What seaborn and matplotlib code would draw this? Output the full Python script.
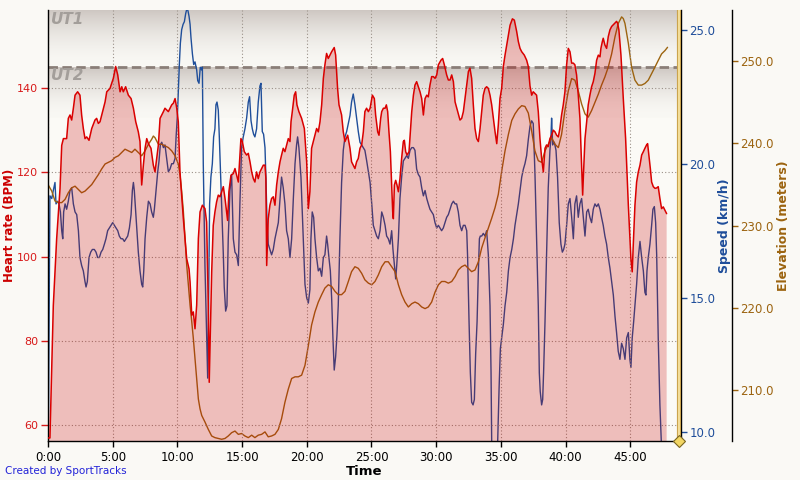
import matplotlib
matplotlib.use("Agg")
import matplotlib.pyplot as plt
import seaborn as sns
import numpy as np
import pandas as pd
from matplotlib.colors import LinearSegmentedColormap
from matplotlib.ticker import FuncFormatter, FormatStrFormatter

# Heart rate trace (minutes, bpm)
hr_time = [
    0.00, 0.15, 0.41, 0.67, 0.93, 1.06, 1.19, 1.44, 1.57, 1.70,
    1.83, 1.96, 2.09, 2.29, 2.47, 2.60, 2.73, 2.86, 2.99, 3.17,
    3.38, 3.63, 3.76, 3.89, 4.02, 4.15, 4.28, 4.41, 4.54, 4.79,
    5.05, 5.23, 5.39, 5.57, 5.70, 5.82, 6.00, 6.21, 6.42, 6.60,
    6.78, 6.98, 7.11, 7.24, 7.37, 7.50, 7.63, 7.76, 7.96, 8.14,
    8.27, 8.40, 8.53, 8.66, 8.79, 8.92, 9.04, 9.30, 9.56, 9.69,
    9.82, 9.95, 10.07, 10.20, 10.46, 10.72, 10.90, 10.98, 11.11, 11.23,
    11.36, 11.49, 11.62, 11.75, 11.93, 12.13, 12.26, 12.39, 12.46, 12.65,
    12.77, 12.90, 13.03, 13.16, 13.29, 13.42, 13.55, 13.68, 13.80, 13.88,
    13.98, 14.14, 14.32, 14.45, 14.58, 14.71, 14.83, 14.91, 15.02, 15.17,
    15.35, 15.48, 15.61, 15.74, 15.87, 15.99, 16.12, 16.25, 16.38, 16.51,
    16.64, 16.77, 16.84, 16.90, 17.02, 17.15, 17.28, 17.41, 17.54, 17.67,
    17.80, 17.93, 18.05, 18.18, 18.31, 18.44, 18.57, 18.70, 18.78, 18.88,
    19.03, 19.14, 19.24, 19.39, 19.60, 19.81, 19.99, 20.12, 20.24, 20.37,
    20.50, 20.63, 20.76, 20.89, 21.02, 21.15, 21.28, 21.40, 21.53, 21.66,
    21.79, 21.92, 22.12, 22.23, 22.38, 22.49, 22.69, 22.82, 22.95, 23.16,
    23.34, 23.46, 23.59, 23.72, 23.85, 23.98, 24.11, 24.24, 24.37, 24.49,
    24.62, 24.76, 24.89, 25.07, 25.22, 25.32, 25.48, 25.58, 25.71, 25.79,
    25.92, 26.05, 26.15, 26.25, 26.35, 26.46, 26.56, 26.64, 26.69, 26.77,
    26.87, 26.97, 27.08, 27.20, 27.33, 27.46, 27.54, 27.64, 27.75, 27.90,
    28.00, 28.11, 28.24, 28.36, 28.49, 28.62, 28.75, 28.88, 29.01, 29.14,
    29.27, 29.39, 29.52, 29.65, 29.78, 29.91, 30.04, 30.17, 30.37, 30.50,
    30.63, 30.81, 30.94, 31.07, 31.20, 31.33, 31.46, 31.66, 31.84, 31.97,
    32.10, 32.23, 32.36, 32.49, 32.61, 32.74, 32.87, 33.00, 33.13, 33.26,
    33.39, 33.52, 33.64, 33.77, 33.90, 34.03, 34.16, 34.29, 34.42, 34.55,
    34.68, 34.80, 34.93, 35.06, 35.19, 35.32, 35.45, 35.58, 35.71, 35.89,
    36.04, 36.22, 36.35, 36.48, 36.61, 36.81, 36.99, 37.12, 37.25, 37.38,
    37.50, 37.63, 37.76, 37.89, 38.02, 38.15, 38.28, 38.41, 38.53, 38.66,
    38.79, 38.92, 39.05, 39.18, 39.31, 39.44, 39.56, 39.69, 39.82, 39.95,
    40.08, 40.21, 40.34, 40.47, 40.60, 40.72, 40.85, 40.98, 41.11, 41.24,
    41.32, 41.39, 41.50, 41.63, 41.75, 41.88, 42.01, 42.14, 42.27, 42.40,
    42.53, 42.66, 42.73, 42.84, 42.91, 43.04, 43.17, 43.30, 43.43, 43.56,
    43.69, 43.82, 43.94, 44.02, 44.12, 44.28, 44.46, 44.64, 44.85, 45.05,
    45.15, 45.23, 45.36, 45.49, 45.62, 45.75, 45.88, 46.01, 46.13, 46.26,
    46.34, 46.44, 46.55, 46.65, 46.78, 46.91, 47.04, 47.16, 47.29, 47.42,
    47.55, 47.68, 47.81,
]
hr_bpm = [
    57.0, 57.0, 88.4, 104.3, 116.2, 126.4, 128.0, 128.0, 132.8, 133.6,
    132.4, 135.2, 138.3, 139.1, 138.3, 133.6, 130.4, 128.0, 128.4, 127.6,
    130.4, 132.4, 132.8, 131.6, 132.0, 133.6, 135.2, 136.7, 139.1, 139.9,
    142.3, 145.1, 143.1, 139.1, 140.3, 139.1, 140.3, 138.3, 137.5, 135.2,
    132.0, 129.6, 127.3, 117.0, 121.7, 125.7, 128.0, 126.8, 125.7, 121.7,
    120.1, 123.3, 126.5, 132.8, 133.6, 134.4, 135.2, 134.4, 136.0, 136.4,
    137.5, 135.2, 132.0, 120.1, 109.0, 99.5, 97.1, 94.0, 86.1, 86.9,
    82.9, 88.5, 104.3, 110.6, 112.2, 111.4, 108.2, 88.5, 70.2, 96.4,
    107.4, 110.6, 113.0, 114.6, 114.2, 115.4, 116.6, 113.8, 110.6, 108.6,
    115.4, 119.3, 119.7, 120.9, 119.3, 117.7, 124.1, 128.0, 127.3, 124.9,
    124.1, 124.5, 122.5, 120.1, 118.5, 117.7, 120.1, 118.5, 120.1, 120.9,
    121.7, 121.7, 118.5, 97.9, 109.0, 112.2, 113.8, 114.2, 112.2, 117.0,
    120.1, 122.5, 124.1, 125.7, 124.9, 126.5, 128.0, 127.3, 132.0, 134.4,
    138.3, 139.1, 136.0, 134.4, 132.8, 130.4, 122.5, 111.4, 115.4, 125.7,
    127.3, 128.8, 130.4, 129.6, 132.0, 136.0, 142.3, 145.5, 148.2, 147.0,
    147.8, 148.6, 149.6, 147.8, 139.9, 136.0, 133.6, 129.6, 127.3, 128.8,
    125.7, 122.5, 121.7, 120.9, 122.5, 123.3, 125.7, 126.5, 129.6, 134.4,
    135.2, 134.4, 135.2, 138.3, 137.5, 133.6, 129.6, 128.8, 132.8, 134.4,
    135.2, 135.2, 136.0, 134.4, 129.6, 124.9, 117.0, 110.6, 109.0, 117.0,
    118.1, 117.0, 115.4, 118.5, 123.3, 127.3, 127.6, 124.9, 124.1, 124.9,
    129.6, 134.4, 138.3, 140.7, 141.5, 140.3, 139.1, 137.5, 133.6, 137.5,
    138.3, 137.9, 140.7, 142.7, 142.7, 142.3, 143.1, 145.5, 146.6, 147.0,
    145.5, 143.1, 141.9, 141.9, 143.1, 141.5, 136.7, 134.4, 132.4, 132.8,
    134.4, 137.5, 140.7, 143.9, 144.7, 142.3, 136.0, 130.4, 128.0, 127.3,
    130.4, 134.4, 138.3, 139.9, 140.3, 139.9, 138.3, 136.0, 132.8, 129.6,
    126.8, 131.2, 137.5, 139.9, 145.1, 147.8, 150.2, 152.6, 154.9, 156.4,
    156.1, 153.4, 151.0, 149.4, 148.6, 147.8, 146.6, 145.1, 140.5, 138.3,
    139.1, 138.7, 138.3, 134.4, 128.0, 123.3, 120.1, 125.7, 126.5, 126.1,
    128.0, 128.8, 130.0, 129.6, 128.8, 128.4, 130.4, 133.6, 136.0, 139.1,
    145.5, 149.4, 148.6, 145.9, 145.9, 145.5, 143.1, 138.3, 132.8, 121.7,
    114.6, 120.1, 128.0, 132.0, 136.0, 138.3, 140.3, 141.5, 143.5, 146.6,
    147.8, 147.4, 149.4, 151.0, 151.8, 150.2, 149.4, 152.2, 153.8, 154.6,
    155.0, 155.4, 155.8, 155.4, 153.8, 147.8, 137.5, 128.0, 112.2, 99.5,
    96.4, 102.7, 112.2, 117.7, 120.1, 121.7, 124.1, 124.9, 125.7, 126.5,
    126.8, 124.1, 120.9, 117.7, 116.6, 116.2, 116.3, 116.6, 113.8, 111.4,
    111.8, 111.0, 110.2,
]

# Speed trace (minutes, km/h)
speed_time = [
    0.00, 0.15, 0.29, 0.41, 0.54, 0.62, 0.75, 0.85, 0.96, 1.06,
    1.14, 1.21, 1.32, 1.44, 1.57, 1.70, 1.83, 1.96, 2.09, 2.22,
    2.35, 2.47, 2.60, 2.73, 2.86, 2.94, 3.04, 3.17, 3.30, 3.43,
    3.58, 3.71, 3.84, 3.97, 4.10, 4.23, 4.36, 4.48, 4.61, 4.74,
    4.87, 5.00, 5.13, 5.26, 5.39, 5.51, 5.64, 5.77, 5.90, 6.03,
    6.16, 6.29, 6.42, 6.52, 6.60, 6.67, 6.78, 6.88, 6.98, 7.11,
    7.24, 7.32, 7.40, 7.50, 7.63, 7.76, 7.89, 8.01, 8.14, 8.22,
    8.35, 8.48, 8.58, 8.68, 8.79, 8.92, 9.04, 9.17, 9.30, 9.43,
    9.56, 9.69, 9.82, 9.90, 10.00, 10.07, 10.15, 10.23, 10.33, 10.44,
    10.54, 10.64, 10.74, 10.82, 10.90, 10.98, 11.05, 11.16, 11.26, 11.36,
    11.49, 11.57, 11.67, 11.77, 11.88, 11.93, 12.00, 12.13, 12.26, 12.34,
    12.41, 12.49, 12.59, 12.70, 12.80, 12.90, 12.98, 13.06, 13.16, 13.24,
    13.31, 13.42, 13.55, 13.62, 13.73, 13.83, 13.93, 14.06, 14.19, 14.32,
    14.45, 14.58, 14.71, 14.83, 14.96, 15.09, 15.22, 15.35, 15.48, 15.58,
    15.69, 15.79, 15.89, 15.99, 16.12, 16.25, 16.38, 16.46, 16.56, 16.66,
    16.77, 16.84, 16.92, 17.02, 17.15, 17.28, 17.41, 17.54, 17.67, 17.80,
    17.93, 18.05, 18.18, 18.31, 18.44, 18.57, 18.70, 18.83, 18.96, 19.09,
    19.21, 19.29, 19.39, 19.55, 19.65, 19.75, 19.86, 19.99, 20.12, 20.24,
    20.32, 20.42, 20.53, 20.63, 20.76, 20.89, 21.02, 21.15, 21.28, 21.40,
    21.53, 21.61, 21.71, 21.82, 21.92, 22.02, 22.12, 22.23, 22.33, 22.43,
    22.56, 22.69, 22.82, 22.95, 23.08, 23.21, 23.34, 23.46, 23.59, 23.72,
    23.85, 23.98, 24.11, 24.24, 24.37, 24.49, 24.63, 24.76, 24.89, 25.02,
    25.14, 25.27, 25.40, 25.53, 25.66, 25.79, 25.92, 26.05, 26.17, 26.30,
    26.43, 26.56, 26.66, 26.77, 26.87, 26.95, 27.08, 27.20, 27.33, 27.46,
    27.59, 27.72, 27.85, 27.98, 28.11, 28.24, 28.36, 28.49, 28.62, 28.75,
    28.88, 29.01, 29.14, 29.27, 29.39, 29.52, 29.65, 29.78, 29.91, 30.04,
    30.17, 30.30, 30.42, 30.55, 30.68, 30.81, 30.94, 31.07, 31.20, 31.33,
    31.46, 31.58, 31.71, 31.84, 31.97, 32.10, 32.23, 32.36, 32.43, 32.54,
    32.64, 32.74, 32.85, 32.95, 33.05, 33.16, 33.26, 33.34, 33.41, 33.52,
    33.64, 33.77, 33.90, 34.03, 34.16, 34.24, 34.29, 34.42, 34.68, 34.75,
    34.86, 34.96, 35.06, 35.19, 35.32, 35.45, 35.58, 35.71, 35.84, 35.97,
    36.09, 36.22, 36.35, 36.48, 36.61, 36.74, 36.86, 36.99, 37.12, 37.25,
    37.38, 37.50, 37.63, 37.76, 37.89, 37.97, 38.04, 38.15, 38.23, 38.30,
    38.41, 38.53, 38.66, 38.79, 38.87, 38.92, 39.00, 39.13, 39.26, 39.38,
    39.51, 39.64, 39.75, 39.85, 39.95, 40.08, 40.21, 40.34, 40.47, 40.60,
    40.72, 40.85, 40.98, 41.11, 41.24, 41.37, 41.50, 41.63, 41.75, 41.88,
    42.01, 42.14, 42.27, 42.40, 42.53, 42.66, 42.78, 42.91, 43.04, 43.17,
    43.30, 43.43, 43.56, 43.69, 43.82, 43.94, 44.07, 44.20, 44.33, 44.46,
    44.59, 44.72, 44.85, 44.97, 45.05, 45.15, 45.26, 45.36, 45.49, 45.62,
    45.75, 45.88, 46.01, 46.13, 46.21, 46.29, 46.39, 46.52, 46.65, 46.75,
    46.86, 46.96, 47.04, 47.16, 47.29, 47.40, 47.55,
]
speed_kmh = [
    8.0, 18.8, 18.7, 19.0, 19.3, 18.5, 18.6, 18.5, 18.2, 17.5,
    17.2, 18.2, 18.5, 18.3, 18.6, 19.0, 19.1, 18.5, 18.2, 18.1,
    17.5, 16.5, 16.2, 16.0, 15.6, 15.4, 15.6, 16.5, 16.7, 16.8,
    16.8, 16.7, 16.5, 16.5, 16.7, 16.8, 17.0, 17.2, 17.5, 17.6,
    17.7, 17.8, 17.7, 17.6, 17.5, 17.3, 17.2, 17.2, 17.1, 17.2,
    17.3, 17.6, 18.1, 19.0, 19.3, 19.0, 18.2, 17.5, 16.7, 16.0,
    15.5, 15.4, 16.0, 17.2, 18.0, 18.6, 18.5, 18.2, 18.0, 18.3,
    19.0, 19.7, 20.1, 20.7, 20.8, 20.6, 20.7, 20.2, 19.7, 19.8,
    20.0, 20.0, 20.2, 21.0, 21.8, 22.7, 23.7, 24.5, 25.0, 25.2,
    25.3, 25.6, 25.8, 25.7, 25.5, 25.2, 24.7, 24.1, 23.7, 23.8,
    23.5, 23.1, 23.0, 23.6, 23.5, 23.6, 20.0, 16.2, 13.5, 12.0,
    14.7, 18.5, 19.5, 20.0, 21.0, 21.3, 22.2, 22.3, 22.0, 21.0,
    20.0, 18.5, 16.6, 15.4, 14.5, 14.7, 17.2, 19.0, 19.6, 17.2,
    16.7, 16.6, 16.2, 18.5, 20.6, 21.0, 21.3, 21.7, 22.3, 22.5,
    21.6, 21.3, 21.1, 21.0, 21.3, 22.3, 22.9, 23.0, 21.2, 21.1,
    20.6, 19.5, 18.0, 17.0, 16.8, 16.6, 16.8, 17.2, 17.5, 17.8,
    18.7, 19.5, 19.1, 18.5, 17.5, 17.2, 16.5, 17.2, 18.7, 20.0,
    20.7, 21.0, 20.6, 19.5, 18.2, 17.0, 15.5, 15.0, 14.8, 15.3,
    17.2, 18.2, 18.0, 17.2, 16.5, 16.0, 16.1, 15.8, 16.5, 16.6,
    17.3, 17.0, 16.5, 16.0, 15.0, 13.5, 12.3, 12.8, 13.6, 14.7,
    17.2, 19.3, 20.5, 21.0, 21.2, 21.5, 21.8, 22.3, 22.6, 22.2,
    21.7, 21.2, 20.8, 20.7, 20.6, 20.5, 20.1, 19.7, 19.3, 18.5,
    17.7, 17.5, 17.3, 17.2, 17.5, 18.2, 18.0, 17.7, 17.3, 17.2,
    17.0, 17.5, 16.8, 16.2, 15.7, 16.2, 17.2, 18.7, 19.5, 20.1,
    20.2, 20.3, 20.2, 20.5, 20.6, 20.6, 20.5, 19.8, 19.6, 19.5,
    19.1, 18.8, 19.0, 18.7, 18.5, 18.3, 18.2, 18.1, 17.8, 17.6,
    17.7, 17.6, 17.5, 17.6, 17.8, 18.0, 18.1, 18.3, 18.5, 18.6,
    18.5, 18.5, 18.2, 17.7, 17.5, 17.7, 17.7, 17.5, 16.5, 14.1,
    12.2, 11.1, 11.0, 11.2, 12.9, 14.1, 16.0, 17.2, 17.3, 17.3,
    17.4, 17.3, 17.5, 16.6, 14.7, 12.2, 9.6, 8.5, 8.5, 9.6,
    11.6, 13.1, 13.5, 14.0, 14.7, 15.2, 16.0, 16.5, 16.8, 17.2,
    17.7, 18.1, 18.5, 19.0, 19.5, 19.8, 20.0, 20.3, 20.9, 21.4,
    21.6, 21.5, 19.7, 17.2, 14.7, 12.2, 11.5, 11.0, 11.2, 12.2,
    14.1, 16.6, 19.1, 20.5, 21.0, 21.7, 20.7, 20.8, 20.5, 19.5,
    17.8, 17.0, 16.7, 16.8, 17.0, 17.7, 18.5, 18.7, 18.0, 17.2,
    18.5, 18.8, 18.0, 18.5, 18.7, 18.0, 17.3, 18.2, 18.3, 18.0,
    17.8, 18.3, 18.5, 18.4, 18.5, 18.3, 18.0, 17.7, 17.3, 17.0,
    16.5, 16.1, 15.6, 15.1, 14.3, 13.7, 13.0, 12.7, 13.3, 13.1,
    12.7, 13.5, 13.7, 12.7, 12.4, 13.5, 14.1, 14.7, 15.5, 16.5,
    17.1, 16.5, 16.0, 15.2, 15.1, 16.0, 16.5, 17.0, 17.7, 18.3,
    18.4, 17.8, 16.6, 13.5, 11.0, 9.6, 8.5,
]

# Elevation trace (minutes, meters)
elev_time = [
    0.00, 0.29, 0.54, 0.80, 1.06, 1.32, 1.57, 1.83, 2.09, 2.35,
    2.60, 2.86, 3.12, 3.38, 3.63, 3.89, 4.15, 4.41, 4.66, 4.92,
    5.18, 5.44, 5.70, 5.95, 6.21, 6.47, 6.72, 6.98, 7.24, 7.50,
    7.76, 8.01, 8.14, 8.27, 8.53, 8.79, 9.04, 9.30, 9.56, 9.82,
    10.07, 10.20, 10.33, 10.46, 10.59, 10.72, 10.85, 10.98, 11.11, 11.23,
    11.36, 11.49, 11.62, 11.75, 11.88, 12.13, 12.39, 12.65, 12.90, 13.16,
    13.42, 13.68, 13.93, 14.19, 14.45, 14.71, 14.96, 15.22, 15.48, 15.74,
    15.99, 16.25, 16.51, 16.77, 17.02, 17.28, 17.54, 17.80, 18.05, 18.31,
    18.57, 18.83, 19.09, 19.34, 19.60, 19.86, 20.12, 20.37, 20.63, 20.89,
    21.15, 21.40, 21.66, 21.92, 22.18, 22.43, 22.69, 22.95, 23.21, 23.46,
    23.72, 23.98, 24.24, 24.49, 24.76, 25.02, 25.27, 25.53, 25.79, 26.05,
    26.30, 26.56, 26.82, 27.08, 27.33, 27.59, 27.85, 28.11, 28.36, 28.62,
    28.88, 29.14, 29.39, 29.65, 29.91, 30.17, 30.42, 30.68, 30.94, 31.20,
    31.46, 31.71, 31.97, 32.23, 32.49, 32.74, 33.00, 33.26, 33.52, 33.77,
    34.03, 34.29, 34.55, 34.80, 35.06, 35.32, 35.58, 35.84, 36.09, 36.35,
    36.61, 36.86, 37.12, 37.38, 37.63, 37.89, 38.15, 38.41, 38.66, 38.92,
    39.18, 39.44, 39.69, 39.95, 40.21, 40.47, 40.72, 40.98, 41.24, 41.50,
    41.75, 42.01, 42.27, 42.53, 42.78, 43.04, 43.30, 43.56, 43.82, 44.07,
    44.33, 44.46, 44.59, 44.85, 45.10, 45.36, 45.62, 45.88, 46.13, 46.39,
    46.65, 46.91, 47.16, 47.42, 47.68, 47.88,
]
elev_m = [
    235.0, 234.2, 233.0, 232.8, 232.8, 233.2, 234.0, 234.6, 234.8, 234.4,
    234.0, 234.2, 234.6, 235.0, 235.6, 236.2, 236.9, 237.5, 237.7, 237.9,
    238.3, 238.5, 238.9, 239.3, 239.1, 238.9, 239.3, 238.9, 238.5, 239.1,
    239.9, 240.5, 240.9, 240.7, 239.9, 239.9, 239.7, 239.5, 239.1, 238.5,
    237.5, 236.2, 234.2, 231.8, 228.5, 225.2, 222.8, 220.3, 218.3, 216.3,
    213.8, 211.4, 208.9, 207.7, 206.9, 206.1, 205.2, 204.4, 204.2, 204.1,
    204.0, 204.1, 204.4, 204.8, 205.0, 204.6, 204.7, 204.4, 204.2, 204.5,
    204.2, 204.5, 204.6, 204.9, 204.3, 204.4, 204.6, 205.2, 206.5, 208.5,
    210.1, 211.4, 211.6, 211.6, 211.8, 213.0, 215.4, 217.9, 219.5, 220.7,
    221.6, 222.4, 222.8, 222.6, 222.0, 221.6, 221.6, 222.0, 223.2, 224.4,
    225.0, 224.8, 224.2, 223.4, 223.0, 222.8, 223.2, 224.0, 225.0, 225.6,
    225.6, 225.0, 224.4, 222.8, 221.6, 220.7, 220.1, 220.5, 220.7, 220.5,
    220.1, 219.9, 220.1, 220.7, 221.9, 222.8, 223.2, 223.2, 223.0, 223.2,
    223.8, 224.6, 225.0, 225.2, 224.8, 224.4, 224.6, 225.6, 227.3, 228.5,
    229.7, 230.9, 232.2, 233.8, 236.6, 239.1, 241.1, 242.8, 243.6, 244.2,
    244.6, 244.5, 243.7, 241.5, 239.1, 237.9, 237.7, 239.1, 239.9, 240.7,
    239.9, 239.5, 241.1, 244.0, 246.4, 247.9, 247.7, 246.4, 244.8, 243.6,
    243.2, 244.0, 245.0, 246.0, 247.1, 248.1, 249.3, 250.9, 253.0, 254.6,
    255.4, 255.2, 254.6, 252.2, 249.3, 247.7, 247.1, 247.1, 247.3, 247.7,
    248.5, 249.3, 250.1, 250.9, 251.3, 251.7,
]

hr_ticks = [60, 80, 100, 120, 140]
speed_ticks = [10, 15, 20, 25]
elev_ticks = [210, 220, 230, 240, 250]
time_ticks = [0, 5, 10, 15, 20, 25, 30, 35, 40, 45]
zone_limit = 145      # UT1 / UT2 boundary (bpm)
ut2_floor = 133.0     # lower edge of the UT2 shading
lap_marker = 48.77    # lap marker position (min)

hr_df = pd.DataFrame({"min": hr_time, "bpm": hr_bpm})
speed_df = pd.DataFrame({"min": speed_time, "kmh": speed_kmh})
elev_df = pd.DataFrame({"min": elev_time, "m": elev_m})

sns.set_theme(style="white")
plt.rcParams["font.family"] = ["DejaVu Sans"]

BG = "#FAF9F5"
HR_C = "#DA0000"
SP_C = "#1F4E9A"
EL_C = "#9C6410"
X_LIM = (0, 48.92)
HR_LIM = (56.28, 158.5)
SP_LIM = (9.653, 25.735)
EL_LIM = (203.79, 256.24)

fig = plt.figure(figsize=(8, 4.8), dpi=100, facecolor=BG)
pos = [48 / 800, 1 - 441 / 480, 633 / 800, 431 / 480]

ax_bg = fig.add_axes(pos, zorder=0)
ax_sp = fig.add_axes(pos, zorder=1)
ax_el = fig.add_axes(pos, zorder=1.5)
ax_hr = fig.add_axes(pos, zorder=2)

# background with training zone shading
ax_bg.set_facecolor("#FBFAF6")
band_cmap = LinearSegmentedColormap.from_list("band", ["#F9F8F4", "#CEC7C2"])
grad = np.linspace(0, 1, 256).reshape(-1, 1) ** 1.8
ax_bg.imshow(grad, extent=[X_LIM[0], X_LIM[1], ut2_floor, zone_limit], origin="lower",
             aspect="auto", cmap=band_cmap, zorder=0)
ax_bg.imshow(grad, extent=[X_LIM[0], X_LIM[1], zone_limit, HR_LIM[1]], origin="lower",
             aspect="auto", cmap=band_cmap, zorder=0)
ax_bg.axhline(zone_limit, color="#8A7E78", lw=2.0, dashes=(3.4, 1.6), zorder=2)
ax_bg.text(0.22, HR_LIM[1] - 0.4, "UT1", fontsize=11, fontweight="bold", fontstyle="italic",
           color="#A39E9A", va="top", ha="left")
ax_bg.text(0.22, zone_limit - 0.3, "UT2", fontsize=11, fontweight="bold", fontstyle="italic",
           color="#A39E9A", va="top", ha="left")
ax_bg.set_xlim(*X_LIM)
ax_bg.set_ylim(*HR_LIM)
ax_bg.set_xticks([])
ax_bg.set_yticks([])
for s in ax_bg.spines.values():
    s.set_visible(False)

# speed (under the heart-rate fill)
sns.lineplot(data=speed_df, x="min", y="kmh", ax=ax_sp, color=SP_C, linewidth=1.0,
             estimator=None, sort=False)
ax_sp.patch.set_visible(False)
ax_sp.set_xlim(*X_LIM)
ax_sp.set_ylim(*SP_LIM)
ax_sp.xaxis.set_visible(False)
ax_sp.yaxis.tick_right()
ax_sp.yaxis.set_label_position("right")
ax_sp.set_yticks(speed_ticks)
ax_sp.yaxis.set_major_formatter(FormatStrFormatter("%.1f"))
ax_sp.tick_params(axis="y", colors=SP_C, labelsize=8.5, length=4, width=1, pad=2, right=True)
for k in ["left", "top", "bottom"]:
    ax_sp.spines[k].set_visible(False)
ax_sp.spines["right"].set_color("black")
ax_sp.spines["right"].set_linewidth(1.0)
ax_sp.set_ylabel("Speed (km/h)", color=SP_C, fontsize=9, fontweight="bold", labelpad=2)

# elevation
sns.lineplot(data=elev_df, x="min", y="m", ax=ax_el, color=EL_C, linewidth=1.0,
             estimator=None, sort=False)
ax_el.patch.set_visible(False)
ax_el.set_xlim(*X_LIM)
ax_el.set_ylim(*EL_LIM)
ax_el.xaxis.set_visible(False)
ax_el.yaxis.tick_right()
ax_el.yaxis.set_label_position("right")
ax_el.set_yticks(elev_ticks)
ax_el.yaxis.set_major_formatter(FormatStrFormatter("%.1f"))
ax_el.tick_params(axis="y", colors=EL_C, labelsize=8.5, length=4, width=1, pad=2, right=True)
for k in ["left", "top", "bottom"]:
    ax_el.spines[k].set_visible(False)
ax_el.spines["right"].set_position(("outward", 36.7))
ax_el.spines["right"].set_color("black")
ax_el.spines["right"].set_linewidth(1.0)
ax_el.set_ylabel("Elevation (meters)", color=EL_C, fontsize=9, fontweight="bold", labelpad=2)

# heart rate on top
ax_hr.patch.set_visible(False)
ax_hr.set_axisbelow(True)
ax_hr.fill_between(hr_df["min"], hr_df["bpm"], 0, color=(0.78, 0, 0), alpha=0.24,
                   linewidth=0, zorder=1)
sns.lineplot(data=hr_df, x="min", y="bpm", ax=ax_hr, color=HR_C, linewidth=1.1,
             estimator=None, sort=False, zorder=3)
ax_hr.set_xlim(*X_LIM)
ax_hr.set_ylim(*HR_LIM)
ax_hr.set_xticks(time_ticks)
ax_hr.xaxis.set_major_formatter(FuncFormatter(lambda v, p: f"{int(v)}:00"))
ax_hr.set_yticks(hr_ticks)
ax_hr.grid(True, color="#9A9088", linestyle=(0, (1, 2)), linewidth=0.8)
ax_hr.tick_params(axis="y", colors="#D81A1A", labelsize=8, length=5, width=1, pad=2, left=True)
ax_hr.tick_params(axis="x", colors="black", labelsize=8.5, length=4, width=1, pad=3, bottom=True)
for k in ["top", "right"]:
    ax_hr.spines[k].set_visible(False)
for k in ["left", "bottom"]:
    ax_hr.spines[k].set_color("black")
    ax_hr.spines[k].set_linewidth(1.0)
ax_hr.set_xlabel("Time", fontsize=9.5, fontweight="bold", color="black", labelpad=1)
ax_hr.set_ylabel("Heart rate (BPM)", fontsize=8.5, fontweight="bold", color="#CC0000")
ax_hr.yaxis.set_label_coords(-38.5 / 633, 0.5)
ax_hr.yaxis.label.set_verticalalignment("center")

# lap marker
ax_hr.axvline(lap_marker, color="#C9A24B", lw=3.0, zorder=5)
ax_hr.axvline(lap_marker, color="#F3DD99", lw=1.5, zorder=5)
ax_hr.plot([lap_marker], [HR_LIM[0]], marker="D", ms=6.5, mfc="#F2D664", mec="#7A6520",
           mew=0.8, clip_on=False, zorder=6)

fig.text(0.006, 0.018, "Created by SportTracks", fontsize=7.5, color="#2323D8",
         ha="left", va="center")

fig.savefig("out.png", dpi=100, facecolor=BG)
